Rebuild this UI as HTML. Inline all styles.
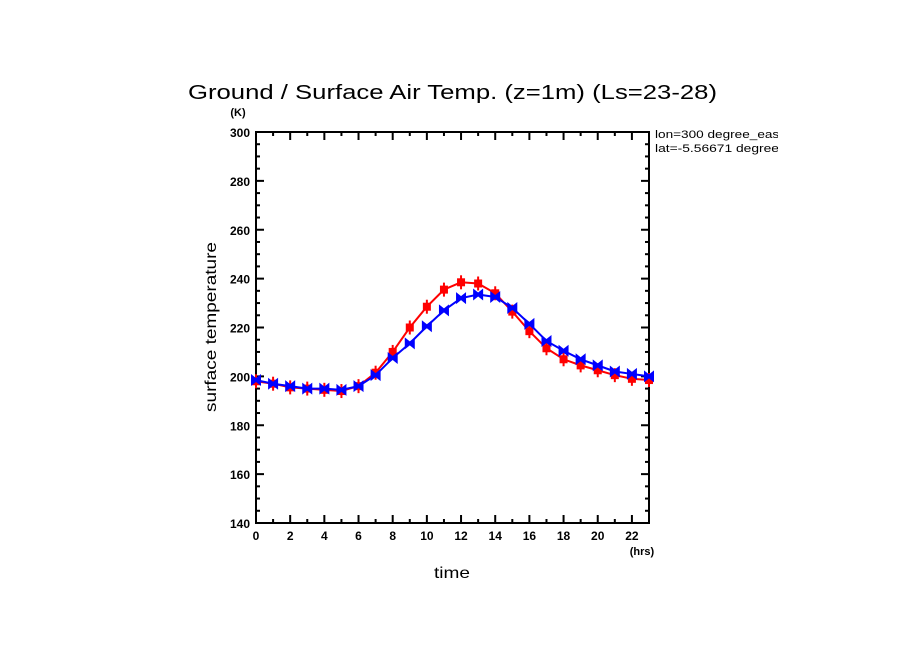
<!DOCTYPE html><html><head><style>body{margin:0;background:#fff}svg{display:block}</style></head><body>
<svg id="s" width="904" height="654" xmlns="http://www.w3.org/2000/svg" font-family="Liberation Sans, sans-serif">
<defs><clipPath id="c"><rect x="650" y="120" width="128" height="40"/></clipPath></defs>
<rect width="904" height="654" fill="#fff"/>
<text x="188" y="99" font-size="20" textLength="529" lengthAdjust="spacingAndGlyphs">Ground / Surface Air Temp. (z=1m) (Ls=23-28)</text>
<text x="238" y="116" font-size="11" text-anchor="middle" font-weight="bold">(K)</text>
<g clip-path="url(#c)">
<text x="655" y="138" font-size="11" textLength="128" lengthAdjust="spacingAndGlyphs">lon=300 degree_east</text>
<text x="655" y="152" font-size="11" textLength="124" lengthAdjust="spacingAndGlyphs">lat=-5.56671 degree</text>
</g>
<text x="216" y="412" font-size="16" textLength="170" lengthAdjust="spacingAndGlyphs" transform="rotate(-90 216 412)">surface temperature</text>
<text x="434" y="578" font-size="16" textLength="36" lengthAdjust="spacingAndGlyphs">time</text>
<text x="642" y="555" font-size="11" text-anchor="middle" font-weight="bold">(hrs)</text>
<g id="g"></g>
</svg>
<script>
var g=document.getElementById('g'),h='';
var L=256,R=649,T=132,B=523;
function X(t){return L+t*(R-L)/23}function Y(v){return B-(v-140)*(B-T)/160}
h+='<rect x="'+L+'" y="'+T+'" width="'+(R-L)+'" height="'+(B-T)+'" fill="none" stroke="#000" stroke-width="2"/>';
for(var t=0;t<=23;t++){var x=X(t),l=t%2==0?8:4;h+='<line x1="'+x+'" y1="'+B+'" x2="'+x+'" y2="'+(B-l)+'" stroke="#000" stroke-width="2"/><line x1="'+x+'" y1="'+T+'" x2="'+x+'" y2="'+(T+l)+'" stroke="#000" stroke-width="2"/>';
if(t%2==0&&t<=22)h+='<text x="'+x+'" y="'+(B+17)+'" font-size="12" font-weight="bold" text-anchor="middle">'+t+'</text>';}
for(var v=140;v<=300;v+=5){var y=Y(v),l=v%20==0?8:4;h+='<line x1="'+L+'" y1="'+y+'" x2="'+(L+l)+'" y2="'+y+'" stroke="#000" stroke-width="2"/><line x1="'+R+'" y1="'+y+'" x2="'+(R-l)+'" y2="'+y+'" stroke="#000" stroke-width="2"/>';
if(v%20==0)h+='<text x="'+(L-6)+'" y="'+(y+5)+'" font-size="12" font-weight="bold" text-anchor="end">'+v+'</text>';}
var red=[198,197,195.5,195,194.5,194,196,201.5,210,220,228.5,235.5,238.5,238,234,226.5,218.5,211.5,207,204.5,202.5,200.5,199,198.5];
var blue=[198.5,197,196,195,195,194.5,196,200.5,207.5,213.5,220.5,227,232,233.5,232.5,228,221.5,214.5,210.5,207,204.5,202,201,200];
function ser(d,c,m){var p=d.map(function(v,i){return X(i)+','+Y(v)}).join(' ');
h+='<polyline points="'+p+'" fill="none" stroke="'+c+'" stroke-width="2"/>';
d.forEach(function(v,i){var x=X(i),y=Y(v);
if(m){h+='<rect x="'+(x-4)+'" y="'+(y-4)+'" width="8" height="8" fill="'+c+'"/><line x1="'+x+'" y1="'+(y-7)+'" x2="'+x+'" y2="'+(y+7)+'" stroke="'+c+'" stroke-width="2"/>';}
else{h+='<polygon points="'+(x-5)+','+(y-6)+' '+x+','+(y-2)+' '+(x+5)+','+(y-6)+' '+(x+5)+','+(y+6)+' '+x+','+(y+2)+' '+(x-5)+','+(y+6)+'" fill="'+c+'"/>';}});}
ser(red,'#f00',1);ser(blue,'#00f',0);
g.innerHTML=h;
</script>
</body></html>
